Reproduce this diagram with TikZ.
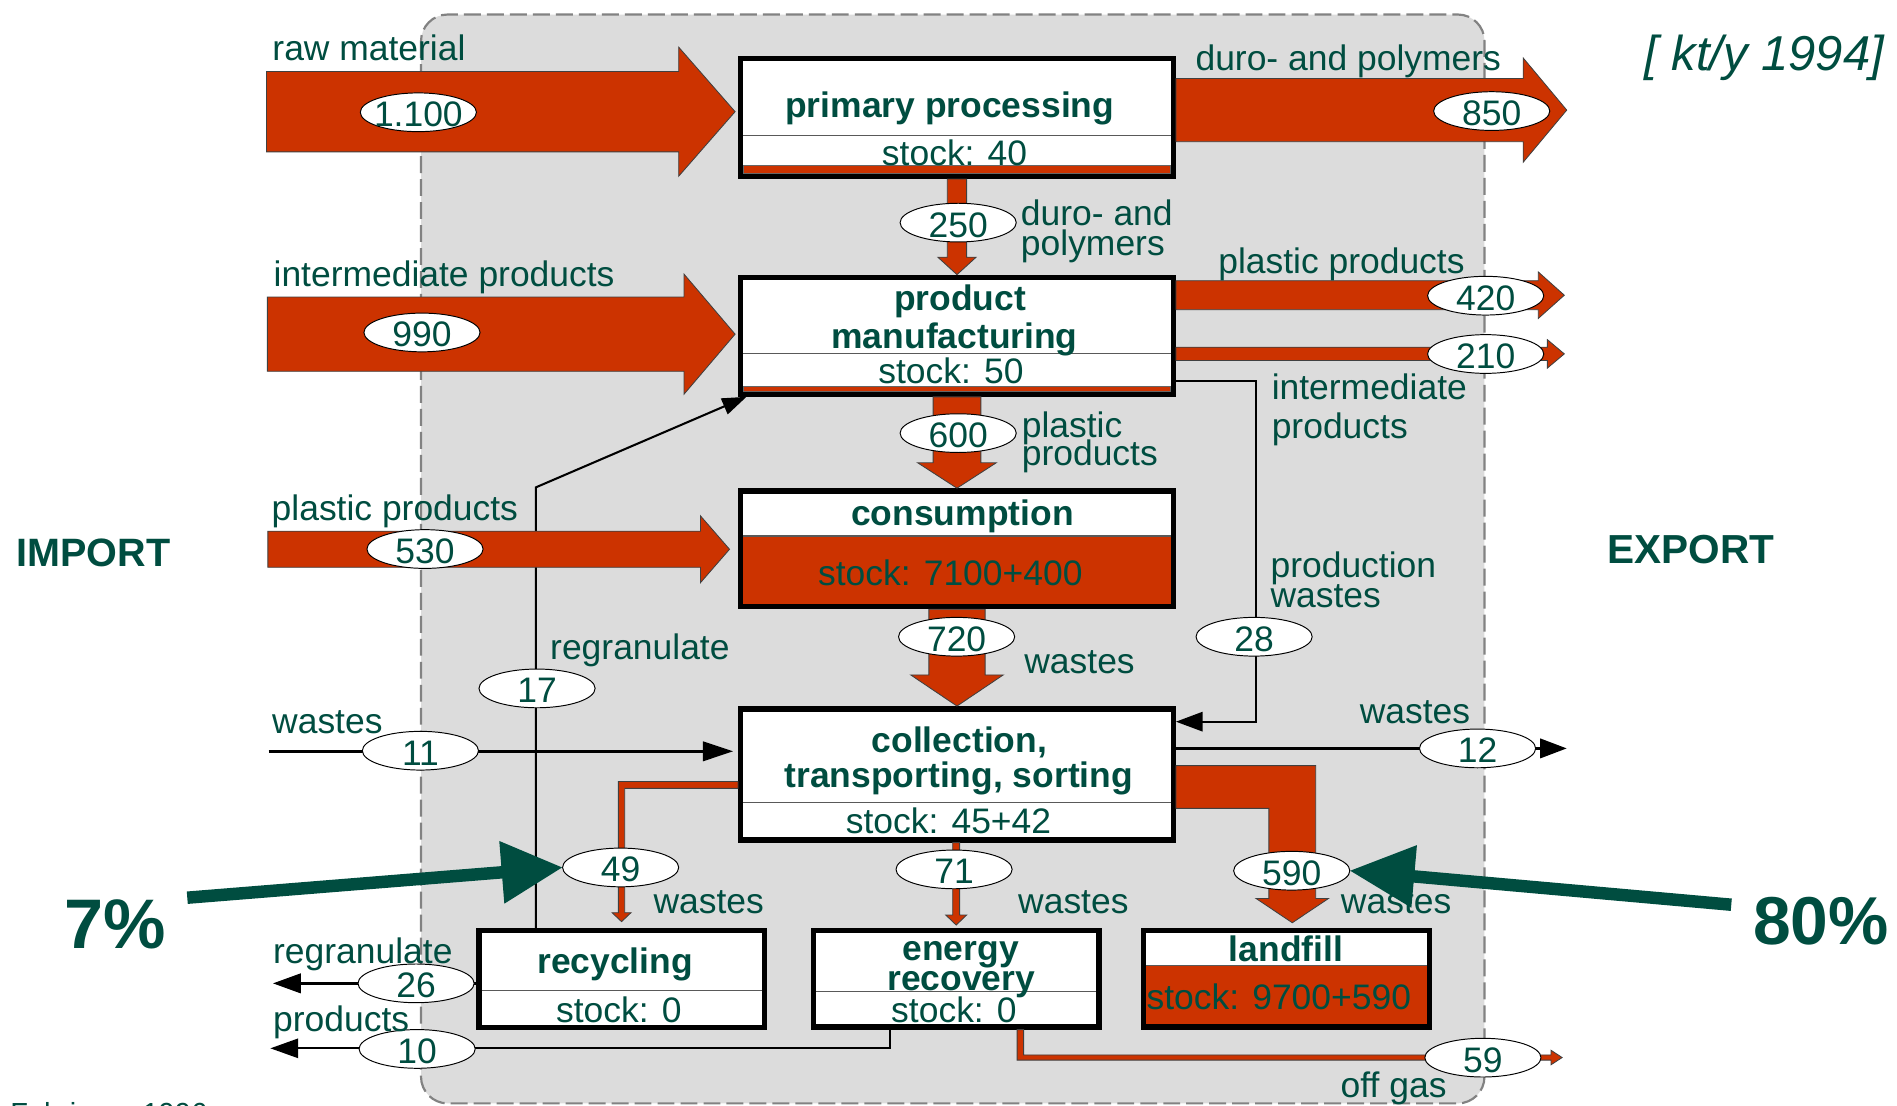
\documentclass[tikz,border=0pt]{standalone}
\usepackage{fontspec}
\setmainfont{Liberation Sans}
\usetikzlibrary{calc,shapes.geometric,arrows.meta}

\definecolor{tgreen}{RGB}{0,77,64}
\definecolor{flowred}{RGB}{204,51,0}
\definecolor{sysgray}{RGB}{220,220,220}
\definecolor{dashgray}{RGB}{130,130,130}

% number inside a flow ellipse (takes no room, so the ellipse keeps its size)
\newcommand\nt[1]{\raisebox{-12pt}[0pt][0pt]{\makebox[0pt]{#1}}}

% horizontal block arrow: tail, tip, shaft half-height, head half-height, head length
\newcommand\flowR[5]{\filldraw[flow] let \p1=(#1), \p2=(#2) in
  (\x1,\y2+#3) -- (\x2-#5,\y2+#3) -- (\x2-#5,\y2+#4) -- (\x2,\y2)
  -- (\x2-#5,\y2-#4) -- (\x2-#5,\y2-#3) -- (\x1,\y2-#3) -- cycle;}
% downward block arrow: tail, tip, shaft half-width, head half-width, head length
\newcommand\flowD[5]{\filldraw[flow] let \p1=(#1), \p2=(#2) in
  (\x2-#3,\y1) -- (\x2-#3,\y2+#5) -- (\x2-#4,\y2+#5) -- (\x2,\y2)
  -- (\x2+#4,\y2+#5) -- (\x2+#3,\y2+#5) -- (\x2+#3,\y1) -- cycle;}

\tikzset{
  flow/.style={fill=flowred, draw=black!75, line width=0.7pt, line join=miter},
  procbox/.style={rectangle, draw=black, line width=4.5pt, fill=white, inner sep=0pt},
  divider/.style={draw=black!65, line width=1pt},
  stripe/.style={fill=flowred, draw=black!60, line width=0.5pt},
  txt/.style={font=\fontsize{29.3pt}{30pt}\selectfont, text=tgreen, inner sep=0pt,
    text height=26pt, text depth=6pt},
  boxtitle/.style={txt, font=\fontsize{29.3pt}{30pt}\selectfont\bfseries},
  lab/.style={txt, anchor=west},
  num/.style={ellipse, draw=black, line width=0.8pt, fill=white, minimum width=96pt,
    minimum height=32pt, inner sep=0pt, font=\fontsize{29.3pt}{30pt}\selectfont, text=tgreen},
  link/.style={draw=black, line width=#1},
  sysbound/.style={fill=sysgray, draw=dashgray, line width=1.8pt,
    dash pattern=on 14pt off 5pt, rounded corners=22pt},
  bigtxt/.style={font=\fontsize{#1}{#1}\selectfont\bfseries, text=tgreen, inner sep=0pt,
    anchor=base west},
  pointer/.style={draw=tgreen, line width=10.3pt},
}

\begin{document}
\begin{tikzpicture}[x=1pt,y=-1pt]
\useasboundingbox (0,0) rectangle (1568,914);
\fill[white] (0,0) rectangle (1568,914);

% system boundary
\filldraw[sysbound] (348,12) rectangle (1227,912);

% processes
\node[procbox, minimum width=357.5pt, minimum height=97.5pt] (pp) at (791,97) {};
\node[procbox, minimum width=357.5pt, minimum height=96.5pt] (pm) at (791,277.5) {};
\node[procbox, minimum width=357.5pt, minimum height=95.6pt] (cons) at (791,453.55) {};
\node[procbox, minimum width=357.5pt, minimum height=108.4pt] (coll) at (791,640.05) {};
\node[procbox, minimum width=236pt, minimum height=79.9pt] (rec) at (513.75,809.2) {};
\node[procbox, minimum width=236.2pt, minimum height=79.5pt] (energy) at (790.35,809) {};
\node[procbox, minimum width=236.4pt, minimum height=79.5pt] (landfill) at (1063.25,809) {};

% stock compartments
\filldraw[stripe] (614.5,136.5) rectangle (967.5,143.5);
\draw[divider] (614.5,112) -- (967.5,112);
\filldraw[stripe] (614.5,319.5) rectangle (967.5,323.5);
\draw[divider] (614.5,292) -- (967.5,292);
\fill[flowred] (614.5,443) rectangle (967.5,499.1);
\draw[divider] (614.5,443) -- (967.5,443);
\draw[divider] (614.5,663.5) -- (967.5,663.5);
\draw[divider] (398,819) -- (629.5,819);
\draw[divider] (674.5,819.7) -- (906.2,819.7);
\fill[flowred] (947.3,798) rectangle (1179.2,846.5);
\draw[divider] (947.3,798) -- (1179.2,798);

% process texts
\node[boxtitle] (pp-t) at (785,86.8) {primary processing};
\node[txt] (pp-s) at (789,126.8) {stock: 40};
\node[boxtitle] (pm-t1) at (793.5,246.5) {product};
\node[boxtitle] (pm-t2) at (789,278) {manufacturing};
\node[txt] (pm-s) at (786,307) {stock: 50};
\node[boxtitle] (cons-t) at (795.5,424) {consumption};
\node[txt] (cons-s) at (785.5,473.7) {stock: 7100+400};
\node[boxtitle] (coll-t1) at (793,611.7) {collection,};
\node[boxtitle] (coll-t2) at (792.5,640.6) {transporting, sorting};
\node[txt] (coll-s) at (784,679) {stock: 45+42};
\node[boxtitle] (rec-t) at (508.5,795) {recycling};
\node[txt] (rec-s) at (511.5,835) {stock: 0};
\node[boxtitle] (en-t1) at (794,783.7) {energy};
\node[boxtitle] (en-t2) at (794.5,809) {recovery};
\node[txt] (en-s) at (788.5,835) {stock: 0};
\node[boxtitle] (lf-t) at (1063,785) {landfill};
\node[txt] (lf-s) at (1057,824) {stock: 9700+590};

% free ends and bends
\coordinate (rawin) at (220.3,92.3);
\coordinate (rawtip) at ($(pp.west |- rawin)+(-2.4,0)$);
\coordinate (midin) at (221,276.2);
\coordinate (midtip) at ($(pm.west |- midin)+(-2.4,0)$);
\coordinate (plin) at (221.4,454);
\coordinate (pltip) at ($(cons.west |- plin)+(-7,0)$);
\coordinate (duroout) at (1295,91);
\coordinate (plout) at (1293,244);
\coordinate (intout) at (1293,292.5);
\coordinate (wastin) at (222,621);
\coordinate (rgbend) at (443,402.8);
\coordinate (pw1) at (1038,314.7);
\coordinate (pw2) at (1038,596.5);
\coordinate (wasteout) at (1295,618.6);
\coordinate (rgout) at (225.6,812.8);
\coordinate (prbend) at (735.4,866.5);
\coordinate (prout) at (223.5,866.5);
\coordinate (c49) at (514,648.8);
\coordinate (c590) at (1068.15,650.5);
\coordinate (cgas) at (843.4,874.1);
\coordinate (gasout) at (1291.2,874.1);
\coordinate (etip) at ($(energy.north)+(0,-2.4)$);

% thin flows
\draw[link=2.2pt, -{Triangle[length=25pt,width=16pt]}, shorten >=4pt] (wastin) -- (coll.west |- wastin);
\draw[link=1.7pt, -{Triangle[length=20pt,width=14pt]}] (rec.north -| rgbend) -- (rgbend) -- ($(pm.south west)+(7,0)$);
\draw[link=1.6pt, -{Triangle[length=22pt,width=16pt]}] (pm.east |- pw1) -- (pw1) -- (pw2) -- (coll.east |- pw2);
\draw[link=2.2pt, -{Triangle[length=22pt,width=16pt]}] (coll.east |- wasteout) -- (wasteout);
\draw[link=2.2pt, -{Triangle[length=23pt,width=16pt]}] (rec.west |- rgout) -- (rgout);
\draw[link=1.6pt, -{Triangle[length=23pt,width=16pt]}] (energy.south -| prbend) -- (prbend) -- (prout);

% mass flows
\flowR{rawin}{rawtip}{33.2pt}{53.3pt}{46.6pt}
\flowR{midin}{midtip}{30.7pt}{49.6pt}{42.2pt}
\flowR{plin}{pltip}{14.9pt}{27.6pt}{24pt}
\flowR{pp.east |- duroout}{duroout}{26.1pt}{43.1pt}{36pt}
\flowR{pm.east |- plout}{plout}{12pt}{19.2pt}{21.5pt}
\flowR{pm.east |- intout}{intout}{5.5pt}{11.75pt}{14pt}
\flowD{pp.south}{pm.north}{8pt}{15.8pt}{14.4pt}
\flowD{pm.south}{cons.north}{19.75pt}{32.5pt}{21pt}
\flowD{cons.south}{coll.north}{23.25pt}{38.2pt}{25.7pt}
\flowD{coll.south}{etip}{2.85pt}{8.65pt}{8.3pt}
% to recycling
\filldraw[flow] let \p1=(coll.west), \p2=(rec.north), \p3=(c49) in
  (\x1,\y3+2.8pt) -- (\x2-2.6pt,\y3+2.8pt) -- (\x2-2.6pt,\y2+12.6pt) -- (\x2-7.8pt,\y2+12.6pt)
  -- (\x2,\y2+5.2pt) -- (\x2+7.8pt,\y2+12.6pt) -- (\x2+2.6pt,\y2+12.6pt) -- (\x2+2.6pt,\y3-2.8pt)
  -- (\x1,\y3-2.8pt) -- cycle;
% to landfill
\filldraw[flow] let \p1=(coll.east), \p2=(landfill.north), \p3=(c590) in
  (\x1,\y3+17.65pt) -- (\x3+19.35pt,\y3+17.65pt) -- (\x3+19.35pt,\y2+24.4pt) -- (\x3+30pt,\y2+24.4pt)
  -- (\x3,\y2+4.3pt) -- (\x3-30pt,\y2+24.4pt) -- (\x3-19.35pt,\y2+24.4pt) -- (\x3-19.35pt,\y3-17.65pt)
  -- (\x1,\y3-17.65pt) -- cycle;
% off gas
\filldraw[flow] let \p1=(energy.south), \p2=(gasout), \p3=(cgas) in
  (\x3-2.7pt,\y1) -- (\x3-2.7pt,\y2-2.15pt) -- (\x2-9.2pt,\y2-2.15pt) -- (\x2-9.2pt,\y2-6pt)
  -- (\x2,\y2) -- (\x2-9.2pt,\y2+6pt) -- (\x2-9.2pt,\y2+2.15pt) -- (\x3+2.7pt,\y2+2.15pt)
  -- (\x3+2.7pt,\y1) -- cycle;

% flow values
\node[num] (n1100) at (345.8,92.8) {\nt{1.100}};
\node[num] (n990) at (348.8,274.8) {\nt{990}};
\node[num] (n530) at (351.3,453.8) {\nt{530}};
\node[num] (n11) at (347.5,620.5) {\nt{11}};
\node[num] (n17) at (443.9,569) {\nt{17}};
\node[num] (n250) at (792,184) {\nt{250}};
\node[num] (n600) at (792,358) {\nt{600}};
\node[num] (n720) at (790.7,526.3) {\nt{720}};
\node[num] (n850) at (1233,91.8) {\nt{850}};
\node[num] (n420) at (1228,244.4) {\nt{420}};
\node[num] (n210) at (1228,292.6) {\nt{210}};
\node[num] (n28) at (1036.6,526.3) {\nt{28}};
\node[num] (n12) at (1221.3,618.6) {\nt{12}};
\node[num] (n49) at (513,717) {\nt{49}};
\node[num] (n71) at (788.6,718.6) {\nt{71}};
\node[num] (n590) at (1067.7,719.7) {\nt{590}};
\node[num] (n26) at (343.9,812.8) {\nt{26}};
\node[num] (n10) at (344.8,867) {\nt{10}};
\node[num] (n59) at (1225.7,874.2) {\nt{59}};

% flow names
\node[lab] (l-raw) at (225,40) {raw material};
\node[lab] (l-mid) at (226,227) {intermediate products};
\node[lab] (l-plin) at (224.4,420) {plastic products};
\node[lab] (l-wain) at (224.8,596.5) {wastes};
\node[lab] (l-rg) at (454.6,535) {regranulate};
\node[lab] (l-duro) at (988,48.2) {duro- and polymers};
\node[lab] (l-d1) at (843.7,176) {duro- and};
\node[lab] (l-d2) at (843.7,201) {polymers};
\node[lab] (l-plout) at (1006.8,216) {plastic products};
\node[lab] (l-i1) at (1051,320) {intermediate};
\node[lab] (l-i2) at (1051,352.7) {products};
\node[lab] (l-p1) at (844.4,351.3) {plastic};
\node[lab] (l-p2) at (844.4,374.7) {products};
\node[lab] (l-pw1) at (1050,467) {production};
\node[lab] (l-pw2) at (1050,491.8) {wastes};
\node[lab] (l-w720) at (846.5,547) {wastes};
\node[lab] (l-wout) at (1123.8,588) {wastes};
\node[lab] (l-w49) at (540,745) {wastes};
\node[lab] (l-w71) at (841.4,744.8) {wastes};
\node[lab] (l-w590) at (1108.2,744.8) {wastes};
\node[lab] (l-rgout) at (225.6,786.7) {regranulate};
\node[lab] (l-prod) at (225.6,842.3) {products};
\node[lab] (l-gas) at (1108,897) {off gas};

% shares
\coordinate (p7) at (154.8,742);
\coordinate (h7) at ($(n49.west)!50pt!(p7)$);
\draw[pointer] (p7) -- ($(n49.west)!45pt!(p7)$);
\fill[tgreen] (n49.west) -- ($(h7)!26pt!90:(p7)$) -- ($(h7)!26pt!-90:(p7)$) -- cycle;
\coordinate (p80) at (1431,747.8);
\coordinate (h80) at ($(n590.east)!53pt!(p80)$);
\draw[pointer] (p80) -- ($(n590.east)!48pt!(p80)$);
\fill[tgreen] (n590.east) -- ($(h80)!26pt!90:(p80)$) -- ($(h80)!26pt!-90:(p80)$) -- cycle;

\node[bigtxt=32.7pt] (imp) at (13.5,468.4) {IMPORT};
\node[bigtxt=33.5pt] (exp) at (1328.6,466) {EXPORT};
\node[bigtxt=58pt] (pc7) at (52.7,783.6) {7\%};
\node[bigtxt=56pt] (pc80) at (1449,781) {80\%};
\node[font=\fontsize{40.5pt}{40.5pt}\selectfont\itshape, text=tgreen, inner sep=0pt,
  anchor=base west] (unit) at (1359,58) {[ kt/y 1994]};

% source line at the lower edge
\begin{scope}
  \clip (0,0) rectangle (1568,914);
  \node[font=\fontsize{24pt}{24pt}\selectfont, text=tgreen, inner sep=0pt, anchor=base west]
    (src) at (8.3,929) {Fehringer 1996};
\end{scope}
\end{tikzpicture}
\end{document}
